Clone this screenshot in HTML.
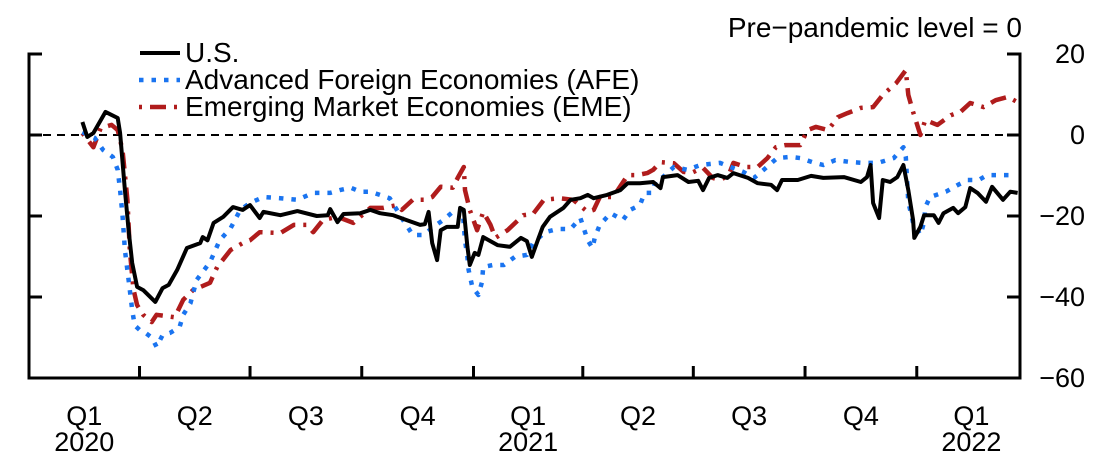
<!DOCTYPE html>
<html><head><meta charset="utf-8">
<style>
html,body{margin:0;padding:0;background:#fff;}
svg{display:block;font-family:"Liberation Sans",Arial,sans-serif;}
</style></head>
<body>
<svg id="chart" width="1100" height="462" viewBox="0 0 1100 462" xmlns="http://www.w3.org/2000/svg">
<text x="1022" y="37" font-size="28" text-anchor="end">Pre−pandemic level = 0</text>
<g id="axes"></g>
<g id="series"></g>
<g>
 <g>
  <line x1="140" y1="53" x2="180" y2="53" stroke="#000" stroke-width="4"/>
  <text x="185" y="62" font-size="28">U.S.</text></g>
 <g>
  <line x1="139" y1="80" x2="180" y2="80" stroke="#1a74f0" stroke-width="4.5" stroke-dasharray="4.5,8"/>
  <text x="185" y="89" font-size="28">Advanced Foreign Economies (AFE)</text></g>
 <g>
  <line x1="139" y1="107" x2="180" y2="107" stroke="#b01c1c" stroke-width="4.5" stroke-dasharray="3,8,16,8"/>
  <text x="185" y="116" font-size="28">Emerging Market Economies (EME)</text></g>
</g>
</svg>
<script>
// days since 2020-01-01
const usDays=[44,48,53,63,73,75,79,82,85,89,94,104,110,115,122,130,141,143,147,152,160,168,176,182,190,193,207,221,237,246,248,254,259,273,281,289,300,311,322,326,329,332,336,339,344,353,355,358,361,363,367,370,374,386,396,405,410,414,419,423,429,440,446,454,460,465,476,487,493,503,514,520,522,534,543,551,555,560,567,575,580,592,600,611,616,620,633,644,654,671,685,690,693,695,700,703,709,715,720,724,728,729,734,737,745,749,753,761,765,771,775,781,788,793,802,808,814];
const usValues=[3.2,-0.5,0.5,5.7,4.2,0.5,-13.6,-23.5,-31.6,-37.5,-38.3,-41.2,-37.8,-37,-33.3,-27.9,-26.7,-25.2,-26,-21.7,-20.2,-17.8,-18.5,-17.3,-20.5,-19,-19.8,-18.8,-20,-19.8,-18.3,-21.5,-19.5,-19.3,-18.5,-19.3,-19.8,-21,-22.2,-22,-19,-26.7,-30.9,-23.5,-22.7,-22.7,-18,-18.5,-27.6,-32.1,-29.1,-29.6,-25.2,-27.2,-27.6,-25.4,-26.2,-30.1,-25.9,-22.7,-20.2,-18,-16,-15.6,-14.8,-15.6,-14.8,-13.6,-11.9,-11.9,-11.6,-13.1,-10.4,-9.9,-11.6,-11.3,-13.6,-10.6,-9.9,-10.6,-9.4,-10.6,-11.9,-12.3,-13.6,-11.1,-11.1,-10.1,-10.6,-10.4,-11.6,-10.4,-7.4,-16.8,-20.5,-11.1,-11.6,-10.4,-7.4,-13.6,-21,-25.4,-22.7,-19.8,-19.8,-21.7,-19.3,-18,-19.3,-17.8,-13.1,-14.3,-16.5,-12.8,-16,-14,-14.3];
const afeDays=[44,54,61,69,73,75,77,79,82,85,87,91,96,101,105,110,116,124,127,133,138,149,157,166,174,182,193,207,221,234,248,256,265,273,281,297,308,316,325,333,341,349,357,359,361,362,365,370,373,374,382,391,400,410,415,425,435,446,454,460,464,466,470,479,489,495,503,507,513,516,522,531,542,553,569,588,597,605,616,627,635,645,654,664,677,687,699,712,720,722,724,728,734,737,738,742,755,765,773,782,789,800,812];
const afeValues=[0.7,-0.7,-3.7,-5.4,-8.6,-13.6,-19.8,-28.4,-35.8,-43.2,-47,-48.1,-48.9,-50,-52.3,-49.4,-48.9,-47.4,-44.4,-41.5,-35.8,-31.4,-26,-23,-18.5,-16.8,-15.3,-15.6,-16,-14.3,-14.3,-13.6,-13,-14,-14,-15.6,-21,-24.7,-24.7,-22.7,-21,-19,-18.5,-26,-30.1,-33.3,-37.5,-39.5,-36.3,-32.6,-32.1,-32.1,-30.1,-29.6,-26.7,-24,-23.2,-23.2,-20.5,-26,-27.9,-25.2,-22.2,-19.3,-21,-18.5,-17.3,-14.3,-14.3,-11.1,-10.4,-7.9,-8.6,-7.4,-6.9,-9.1,-10.6,-8.6,-5.7,-5.4,-5.7,-6.7,-7.4,-6.2,-6.7,-6.9,-6.9,-5.7,-3,-5.4,-16.5,-21.7,-24.7,-21.5,-17.8,-15.3,-14,-12.3,-11.1,-11.1,-9.9,-9.9,-9.9];
const emeDays=[44,53,59,68,73,77,81,83,86,89,94,101,105,120,127,135,149,155,166,176,182,190,207,218,229,234,242,254,267,281,292,303,307,316,326,332,339,349,353,358,359,363,369,374,380,384,394,407,415,424,437,448,460,465,470,481,493,501,509,514,520,531,539,545,555,563,569,576,580,590,600,608,615,623,635,641,648,658,666,674,685,695,703,714,722,724,728,734,738,748,759,767,775,786,796,806,814];
const emeValues=[0.5,-3,1.7,2.5,1.2,-3.7,-16,-28.4,-38,-42,-44.4,-46.2,-44.4,-45,-40.7,-38.3,-36.5,-32.6,-28.4,-26.7,-26,-24,-24.2,-22.2,-22.2,-24,-21,-20.2,-21.7,-18,-18,-17.3,-18.5,-16,-16,-15.3,-12.8,-13,-10.6,-7.9,-13.6,-18.5,-23.5,-19,-22.2,-25.4,-23.5,-19.8,-19.5,-16,-15.6,-16,-19,-18.5,-15.3,-15.3,-9.9,-9.9,-9.4,-8.6,-6.7,-7,-9.1,-9.4,-8.1,-10.6,-11.1,-10,-6.9,-7.9,-7.9,-5.7,-3,-2.5,-2.5,1.2,2,1.2,4.4,5.4,6.7,6.9,9.9,12.8,16,9.9,5.7,0,3.7,2.5,4.9,5.7,7.9,6.9,8.6,9.4,8.1];
const yTicks=[20,0,-20,-40,-60];
const quarterStarts=[0,91,182,274,366,456,547,639,731];
const quarterLabels=["Q1","Q2","Q3","Q4","Q1","Q2","Q3","Q4","Q1"];
const yearLabels=["2020","","","","2021","","","","2022"];
const endDay=816;

const NS="http://www.w3.org/2000/svg";
const X0=29,X1=1020,Y0=54,Y1=378;
function xScale(d){return X0+(X1-X0)*d/endDay;}
function yScale(v){return Y0+(20-v)*(Y1-Y0)/80;}
function mk(tag,attrs,parent){const e=document.createElementNS(NS,tag);for(const k in attrs)e.setAttribute(k,attrs[k]);parent.appendChild(e);return e;}
const axes=document.getElementById('axes');
const ser=document.getElementById('series');
let z=mk('line',{x1:X0,x2:X1,y1:yScale(0),y2:yScale(0),stroke:'#000','stroke-width':2,'stroke-dasharray':'8,6'},axes);


let a=mk('path',{d:`M${X0+13},${Y0}H${X0}V${Y1}H${X1}V${Y0}H${X1-13}`,fill:'none',stroke:'#000','stroke-width':3},axes);


yTicks.forEach(v=>{
  const y=yScale(v);
  if(v>-60&&v<20){
    let t1=mk('line',{x1:X0,x2:X0+13,y1:y,y2:y,stroke:'#000','stroke-width':3},axes);
    
    
    let t2=mk('line',{x1:X1-13,x2:X1,y1:y,y2:y,stroke:'#000','stroke-width':3},axes);
    
    
  }
  let t=mk('text',{x:1085,y:y+9,'font-size':27,'text-anchor':'end'},axes);
  t.textContent=v<0?'−'+Math.abs(v):String(v);
  
  
});
quarterStarts.forEach((d,i)=>{
  const x=xScale(d);
  if(i>0){
    let t=mk('line',{x1:x,x2:x,y1:Y1,y2:Y1-12,stroke:'#000','stroke-width':3},axes);
    
    
  }
  const nd=i+1<quarterStarts.length?quarterStarts[i+1]:d+90;
  const cx=(x+xScale(nd))/2;
  let q=mk('text',{x:cx,y:425,'font-size':27,'text-anchor':'middle'},axes);
  q.textContent=quarterLabels[i];
  
  
  if(yearLabels[i]){
    let yl=mk('text',{x:cx,y:451,'font-size':27,'text-anchor':'middle'},axes);
    yl.textContent=yearLabels[i];
    
    
  }
});
function line(days,vals,style,name){
  const d=days.map((dd,i)=>(i?'L':'M')+xScale(dd).toFixed(1)+','+yScale(vals[i]).toFixed(1)).join('');
  const p=mk('path',Object.assign({d:d,fill:'none','stroke-linejoin':'round'},style),ser);
  
  
}
line(emeDays,emeValues,{stroke:'#b01c1c','stroke-width':4.5,'stroke-dasharray':'3,8,16,8'},'eme-line');
line(afeDays,afeValues,{stroke:'#1a74f0','stroke-width':4.5,'stroke-dasharray':'4.5,8'},'afe-line');
line(usDays,usValues,{stroke:'#000','stroke-width':4},'us-line');
</script>
</body></html>
